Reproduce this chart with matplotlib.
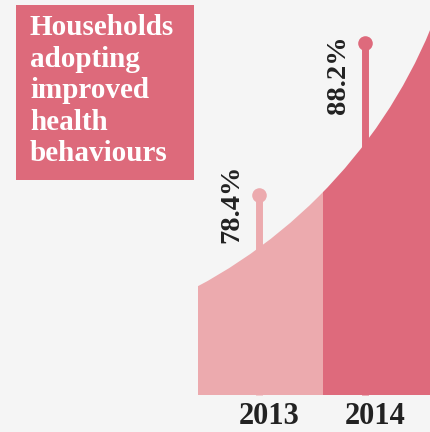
import numpy as np
import matplotlib
matplotlib.use("Agg")
import matplotlib.pyplot as plt
from matplotlib.patches import Rectangle, Ellipse

# Datos del grafico
years = ["2013", "2014"]
values = [78.4, 88.2]
title = "Households\nadopting\nimproved\nhealth\nbehaviours"

# Colores
bg = "#f5f5f5"
band_colors = ["#ecaaae", "#de6a7c"]
box_color = "#dd6a7b"
text_color = "#222222"

plt.rcParams["font.family"] = ["Liberation Serif", "DejaVu Serif"]

fig = plt.figure(figsize=(4.30, 4.32), dpi=100, facecolor=bg)
ax = fig.add_axes([0, 0, 1, 1])
ax.set_facecolor(bg)
ax.set_xlim(-2.443, 1.613)
ax.set_ylim(63.12, 90.97)
ax.axis("off")

x = np.arange(len(years))
floor = 65.5

# Bandas de fondo (una por año)
band_left = [-0.575, 0.604]
band_width = [1.179, 1.5]
ax.bar(band_left, 40, bottom=floor, width=band_width, align="edge",
       color=band_colors, linewidth=0, zorder=1)

# Curva decorativa: se tapa la parte superior con un arco del color de fondo
ax.add_patch(Ellipse((-2.887, 101.87), 9.755, 66.67, facecolor=bg,
                     edgecolor="none", zorder=2))

# Piruletas con el valor de cada año
label_dy = [-8.5, -32]
for i in range(len(years)):
    ax.plot([x[i], x[i]], [floor, values[i]], color=band_colors[i],
            linewidth=5, solid_capstyle="butt", zorder=3)
    ax.plot(x[i], values[i], "o", color=band_colors[i], markersize=10.5,
            markeredgewidth=0, zorder=4)
    ax.annotate(f"{values[i]}%", xy=(x[i], values[i]),
                xytext=(-27, label_dy[i]), textcoords="offset pixels",
                rotation=90, ha="center", va="center", fontsize=20.5,
                fontweight="bold", color=text_color, zorder=5)
    ax.annotate(years[i], xy=(x[i], floor), xytext=(10, -21),
                textcoords="offset pixels", ha="center", va="center",
                fontsize=22, fontweight="bold", color=text_color, zorder=5)

# Caja del titulo
ax.add_patch(Rectangle((16 / 430, 252 / 432), 178 / 430, 175 / 432,
                       transform=ax.transAxes, facecolor=box_color,
                       edgecolor="none", zorder=6))
ax.text(30 / 430, 1 - 14 / 432, title, transform=ax.transAxes,
        ha="left", va="top", fontsize=21, fontweight="bold",
        color="white", linespacing=1.22, zorder=7)

fig.savefig("out.png", dpi=100, facecolor=bg)
